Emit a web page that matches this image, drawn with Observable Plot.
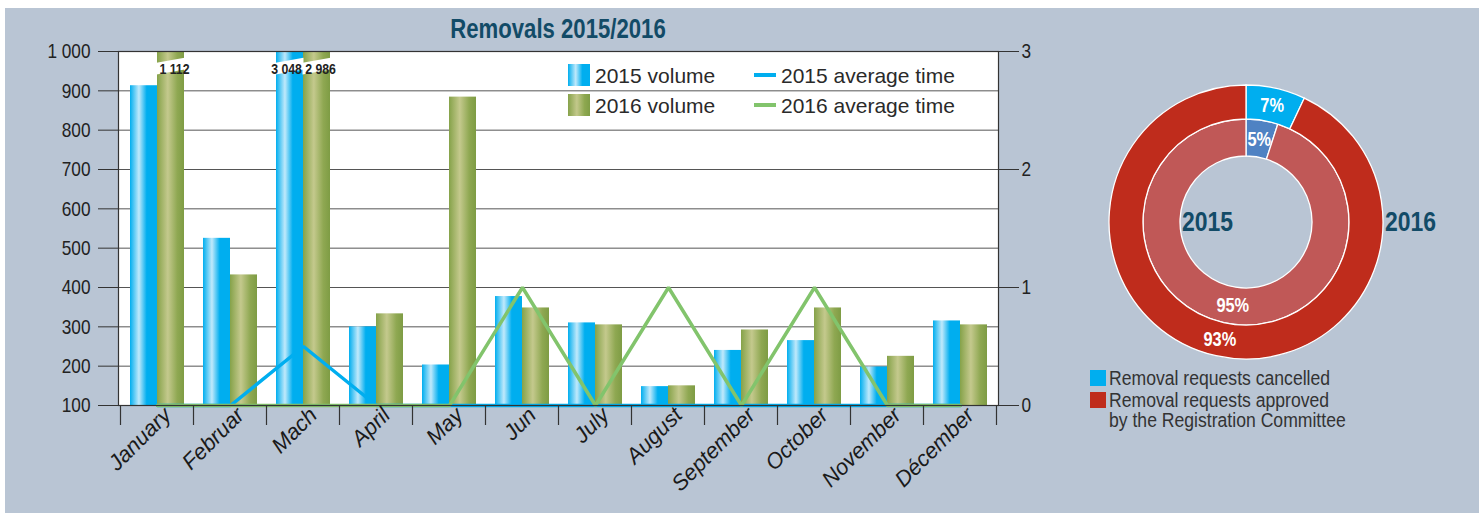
<!DOCTYPE html>
<html><head><meta charset="utf-8">
<script src="https://cdn.jsdelivr.net/npm/d3@7"></script>
<script src="https://cdn.jsdelivr.net/npm/@observablehq/plot@0.6"></script>
<style>
body{margin:0;background:#fff;}
#wrap{position:relative;width:1483px;height:513px;background:#fff;overflow:hidden;font-family:"Liberation Sans",Arial,sans-serif;}
#panel{position:absolute;left:5px;top:8px;width:1474px;height:505px;background:#b9c5d4;}
#bars{position:absolute;left:5px;top:8px;}
#donut{position:absolute;left:1096px;top:72px;}
.title{position:absolute;left:558px;top:14px;transform:translateX(-50%) scaleX(0.82);font-weight:bold;font-size:27px;color:#124b67;white-space:nowrap;}
.lg{position:absolute;font-size:21px;color:#2a2a2a;white-space:nowrap;line-height:1;}
.sw{position:absolute;width:22px;height:22px;}
.ln{position:absolute;width:22px;height:4px;}
.dl{position:absolute;font-size:20px;color:#333;white-space:nowrap;line-height:20px;transform:scaleX(0.88);transform-origin:0 0;}
.sq{position:absolute;width:16px;height:16px;}
</style></head><body>
<div id="wrap">
  <div id="panel"></div>
  <div id="bars"></div>
  <div class="title">Removals 2015/2016</div>
  <div class="sw" style="left:568px;top:64px;background:linear-gradient(90deg,#00aeef 0%,#bfe9fb 35%,#00aeef 65%,#00aeef 100%)"></div>
  <div class="lg" style="left:595px;top:65px;">2015 volume</div>
  <div class="ln" style="left:754px;top:73px;background:#00aeef"></div>
  <div class="lg" style="left:781px;top:65px;">2015 average time</div>
  <div class="sw" style="left:568px;top:94px;background:linear-gradient(90deg,#86a24a 0%,#c3c88b 40%,#8ea850 75%,#7f9d45 100%)"></div>
  <div class="lg" style="left:595px;top:95px;">2016 volume</div>
  <div class="ln" style="left:754px;top:103px;background:#82c46c"></div>
  <div class="lg" style="left:781px;top:95px;">2016 average time</div>
  <div id="donut"></div>
  <div class="sq" style="left:1090px;top:370px;background:#00aeef"></div>
  <div class="dl" style="left:1109px;top:368px;">Removal requests cancelled</div>
  <div class="sq" style="left:1090px;top:392px;background:#bf2c1c"></div>
  <div class="dl" style="left:1109px;top:390px;">Removal requests approved</div>
  <div class="dl" style="left:1109px;top:410px;">by the Registration Committee</div>
</div>
<script>
// ---- data ----
const months = ["January","Februar","Mach","April","May","Jun","July","August","September","October","November","Décember"];
const volume2015 = [913, 525, 3048, 300, 203, 377, 310, 148, 240, 265, 198, 315];
const volume2016 = [1112, 432, 2986, 333, 884, 348, 305, 150, 292, 348, 225, 305];
const avgTime2015 = [0, 0, 0.5, 0, 0, 0, 0, 0, 0, 0, 0, 0];
const avgTime2016 = [0, 0, 0, 0, 0, 1, 0, 1, 0, 1, 0, 0];
const leftTicks = [100, 200, 300, 400, 500, 600, 700, 800, 900, 1000];
const rightTicks = [0, 1, 2, 3];
const donutYears = ["2015", "2016"];
const donutCancelled = [5, 7];
const donutApproved = [95, 93];

// ---- derived tables ----
const Y_MAX = 1000, Y_MIN = 100;
const toLeft = t => Y_MIN + t * 300;   // right axis (0..3) mapped onto left axis (100..1000)
const bars = [
  ...months.map((m, i) => ({month: m, year: 2015, value: volume2015[i]})),
  ...months.map((m, i) => ({month: m, year: 2016, value: volume2016[i]}))
];
const broken = bars.filter(d => d.value > Y_MAX);
const avg15 = months.map((m, i) => ({month: m, t: avgTime2015[i]}));
const avg16 = months.map((m, i) => ({month: m, t: avgTime2016[i]}));
const BREAK_LO = 940, BREAK_HI = 970, BREAK_MID = 955;
const SANS = '"Liberation Sans",Arial,sans-serif';
const fmt = d => d3.format(",")(d).replace(/,/g, " ");

// condensed look: squeeze glyphs horizontally around their own anchor
function narrowTexts(root, k, skip) {
  d3.select(root).selectAll("text").each(function() {
    if (skip && this.closest(skip)) return;
    const x = this.getAttribute("x");
    if (x != null && /^-?[\d.]+$/.test(x)) this.setAttribute("x", (+x) / k);
    const tr = this.getAttribute("transform") || "";
    this.setAttribute("transform", `${tr} scale(${k},1)`.trim());
  });
}

// boundary ticks under the x axis
function bandTicks(index, scales, values, dim) {
  const x = scales.x, bw = x.bandwidth ? x.bandwidth() : 0, step = x.step ? x.step() : bw;
  const g = d3.create("svg:g").attr("stroke", "#333").attr("stroke-width", 1.2);
  const y0 = dim.height - dim.marginBottom;
  const xs = months.map(m => x(m) - (step - bw) / 2);
  xs.push(x(months[months.length - 1]) + bw + (step - bw) / 2);
  for (const xx of xs) g.append("line").attr("x1", xx).attr("x2", xx).attr("y1", y0).attr("y2", y0 + 20);
  return g.node();
}
// white slanted breaks on bars higher than the axis
function breaks(index, scales) {
  const x = scales.x, y = scales.y, bw = x.bandwidth();
  const g = d3.create("svg:g").attr("fill", "white");
  for (const d of broken) {
    const x0 = x(d.month) + (d.year === 2016 ? bw / 2 : 0), w = bw / 2;
    const lo = y(BREAK_LO), hi = y(BREAK_HI), s = 5;
    g.append("polygon").attr("points", [[x0 - 0.5, lo], [x0 + w + 0.5, lo - s], [x0 + w + 0.5, hi - s], [x0 - 0.5, hi]].map(p => p.join(",")).join(" "));
  }
  return g.node();
}

const chart = Plot.plot({
  width: 1040, height: 505,
  marginLeft: 113, marginRight: 47, marginTop: 43, marginBottom: 108,
  style: {background: "transparent", fontFamily: SANS, overflow: "visible"},
  x: {domain: months, paddingInner: 0.263, paddingOuter: 0.1315, label: null},
  y: {domain: [Y_MIN, Y_MAX], label: null},
  marks: [
    Plot.frame({fill: "white"}),
    Plot.gridY(leftTicks, {stroke: "#555", strokeOpacity: 1}),
    Plot.barY(bars.filter(d => d.year === 2015), {x: "month", y1: Y_MIN, y2: "value", fill: "url(#g2015)", insetRight: 27, clip: true}),
    Plot.barY(bars.filter(d => d.year === 2016), {x: "month", y1: Y_MIN, y2: "value", fill: "url(#g2016)", insetLeft: 27, clip: true}),
    breaks,
    Plot.text(broken.filter(d => d.year === 2015), {x: "month", y: () => BREAK_MID, text: d => fmt(d.value), dx: -17, fontWeight: "bold", fontSize: 15, fill: "#222"}),
    Plot.text(broken.filter(d => d.year === 2016), {x: "month", y: () => BREAK_MID, text: d => fmt(d.value), dx: 17, fontWeight: "bold", fontSize: 15, fill: "#222"}),
    Plot.line(avg15, {x: "month", y: d => toLeft(d.t), stroke: "#00aeef", strokeWidth: 3.5, strokeLinejoin: "miter"}),
    Plot.line(avg16, {x: "month", y: d => toLeft(d.t), stroke: "#82c46c", strokeWidth: 3.5, strokeLinejoin: "miter"}),
    Plot.frame({stroke: "#333", strokeWidth: 1.2}),
    bandTicks,
    Plot.axisY(leftTicks, {anchor: "left", tickSize: 20, tickPadding: 8, tickFormat: fmt, fontSize: 21, fill: "#222", stroke: "#333", label: null}),
    Plot.axisY(rightTicks.map(toLeft), {anchor: "right", tickSize: 20, tickPadding: 3, tickFormat: d => (d - Y_MIN) / 300, fontSize: 21, fill: "#222", stroke: "#333", label: null}),
    Plot.axisX({tickSize: 0, tickRotate: -45, tickPadding: 6, fontSize: 22, fill: "#1a1a1a", label: null, dx: 10, fontStyle: "italic"})
  ]
});
// gradients for cylinder-like bars
const defs = d3.select(chart).insert("defs", ":first-child");
const grad = (id, stops) => {
  const lg = defs.append("linearGradient").attr("id", id).attr("x1", 0).attr("x2", 1).attr("y1", 0).attr("y2", 0);
  for (const [o, c] of stops) lg.append("stop").attr("offset", o).attr("stop-color", c);
};
grad("g2015", [[0, "#00aeef"], [0.33, "#c0e9fb"], [0.62, "#00aeef"], [1, "#00aeef"]]);
grad("g2016", [[0, "#85a249"], [0.4, "#c4c98d"], [0.75, "#8fa852"], [1, "#7e9c44"]]);
narrowTexts(chart, 0.82, '[aria-label="x-axis tick label"]');
document.getElementById("bars").appendChild(chart);

// ---- donut ----
const R = [[66, 103], [103, 137]];
const innerColors = ["#4f82c3", "#c05857"], outerColors = ["#00aeef", "#bf2c1c"];
function donut(index, scales) {
  const cx = scales.x(0), cy = scales.y(0);
  const g = d3.create("svg:g").attr("transform", `translate(${cx},${cy})`);
  donutYears.forEach((yr, k) => {
    const arcs = d3.pie().sort(null)([donutCancelled[k], donutApproved[k]]);
    const arc = d3.arc().innerRadius(R[k][0]).outerRadius(R[k][1]);
    const cols = k === 0 ? innerColors : outerColors;
    arcs.forEach((a, j) => {
      g.append("path").attr("d", arc(a)).attr("fill", cols[j]).attr("stroke", "white").attr("stroke-width", 1.3);
      const [lx, ly] = arc.centroid(a);
      g.append("text").attr("transform", `translate(${lx},${ly})`).attr("dy", "0.35em").attr("text-anchor", "middle")
        .attr("fill", "white").attr("font-weight", "bold").attr("font-size", 20).attr("font-family", SANS)
        .text(`${[donutCancelled, donutApproved][j][k]}%`);
    });
  });
  return g.node();
}
const donutChart = Plot.plot({
  width: 360, height: 300, margin: 0,
  style: {background: "transparent", overflow: "visible", fontFamily: SANS},
  x: {domain: [-150, 210], axis: null},
  y: {domain: [150, -150], axis: null},
  marks: [
    donut,
    Plot.text([donutYears[0]], {x: () => -39, y: () => 0, text: d => d, fontSize: 28, fontWeight: "bold", fill: "#124b67"}),
    Plot.text([donutYears[1]], {x: () => 164, y: () => 0, text: d => d, fontSize: 28, fontWeight: "bold", fill: "#124b67"})
  ]
});
narrowTexts(donutChart, 0.82);
document.getElementById("donut").appendChild(donutChart);
</script>
</body></html>
